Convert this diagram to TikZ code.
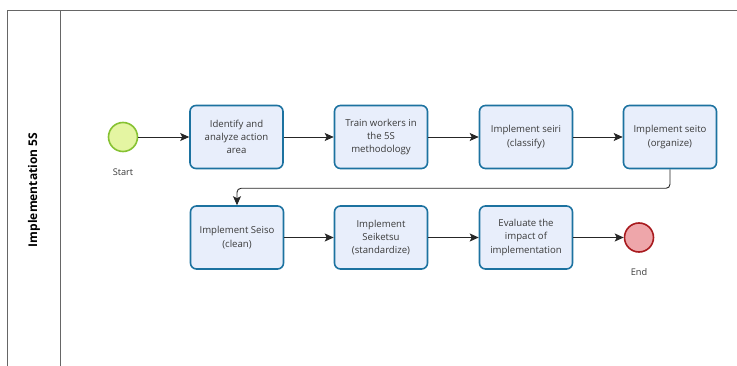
\documentclass[tikz,border=0pt]{standalone}
\usepackage{fontspec}
\setmainfont{Open Sans}
\usetikzlibrary{arrows.meta}

\definecolor{taskline}{HTML}{1C72A0}
\definecolor{taskfill}{HTML}{E8EEFB}
\definecolor{startline}{HTML}{86C232}
\definecolor{startfill}{HTML}{E4F5A2}
\definecolor{endline}{HTML}{A81A1E}
\definecolor{endfill}{HTML}{EEA6AA}
\definecolor{txt}{HTML}{3A3A3A}

\tikzset{
  task/.style={draw=taskline, line width=1.6pt, fill=taskfill, rounded corners=6pt,
    minimum width=93pt, minimum height=63pt, align=center,
    text=txt, font=\fontsize{9.6}{13.3}\selectfont},
  event/.style={circle, minimum size=29pt, inner sep=0pt, line width=1.6pt},
  evlabel/.style={text=txt, font=\fontsize{9.2}{10}\selectfont},
  flow/.style={-{Stealth[length=9pt,width=8pt,inset=2pt]}, line width=0.9pt, black!85},
  lane/.style={draw=black!60, line width=1pt}
}

\begin{document}
\begin{tikzpicture}[x=1pt,y=-1pt]
  \useasboundingbox (0,0) rectangle (737,366);

  % pool and lane header
  \draw[lane] (7,366) -- (7,11) -- (737,11);
  \draw[lane] (60,11) -- (60,366);
  \node[rotate=90, font=\bfseries\fontsize{12}{14}\selectfont] (lanename) at (34,190) {Implementation 5S};

  % first row
  \node[event, draw=startline, fill=startfill] (start) at (123,137) {};
  \node[evlabel] (startlbl) at (123,172) {Start};
  \node[task] (identify) at (236.5,137) {Identify and\\analyze action\\area};
  \node[task] (train) at (381,137) {Train workers in\\the 5S\\methodology};
  \node[task] (seiri) at (526,137) {Implement seiri\\(classify)};
  \node[task] (seito) at (670,137) {Implement seito\\(organize)};

  % second row
  \node[task] (seiso) at (237,237.5) {Implement Seiso\\(clean)};
  \node[task] (seiketsu) at (381,237.5) {Implement\\Seiketsu\\(standardize)};
  \node[task] (evaluate) at (526,237.5) {Evaluate the\\impact of\\implementation};
  \node[event, draw=endline, fill=endfill] (end) at (639,237.5) {};
  \node[evlabel] (endlbl) at (639,272) {End};

  % sequence flows
  \draw[flow] (start) -- (identify);
  \draw[flow] (identify) -- (train);
  \draw[flow] (train) -- (seiri);
  \draw[flow] (seiri) -- (seito);
  \draw[flow, rounded corners=4pt] (seito.south) -- ++(0,19) -| (seiso.north);
  \draw[flow] (seiso) -- (seiketsu);
  \draw[flow] (seiketsu) -- (evaluate);
  \draw[flow] (evaluate) -- (end);
\end{tikzpicture}
\end{document}
